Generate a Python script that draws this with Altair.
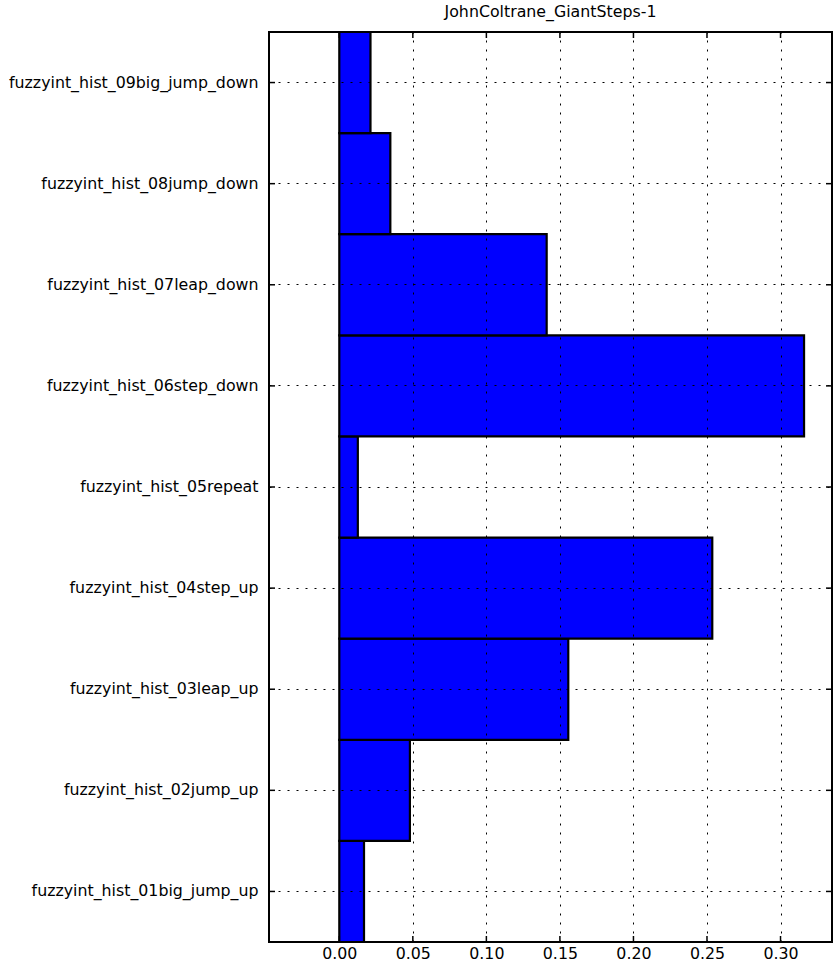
import altair as alt
import pandas as pd

# Fuzzy interval histogram for one solo transcription
title = "JohnColtrane_GiantSteps-1"
features = [
    "fuzzyint_hist_01big_jump_up",
    "fuzzyint_hist_02jump_up",
    "fuzzyint_hist_03leap_up",
    "fuzzyint_hist_04step_up",
    "fuzzyint_hist_05repeat",
    "fuzzyint_hist_06step_down",
    "fuzzyint_hist_07leap_down",
    "fuzzyint_hist_08jump_down",
    "fuzzyint_hist_09big_jump_down",
]
shares = [0.0168, 0.048, 0.1557, 0.2536, 0.0126, 0.316, 0.141, 0.0347, 0.0212]
x_ticks = [0.0, 0.05, 0.10, 0.15, 0.20, 0.25, 0.30]

W, H = 563, 910
FONT = "DejaVu Sans"
FS = 15.8
TICK = 6

bars_df = pd.DataFrame({"feature": features, "share": shares, "zero": [0.0] * len(features)})
xt_df = pd.DataFrame({"t": x_ticks})
frame_df = pd.DataFrame({"k": [0]})

order = list(reversed(features))
xscale = alt.Scale(domain=[-0.0478, 0.335], nice=False, zero=False)
yscale = alt.Scale(domain=order, paddingInner=0, paddingOuter=0)

x_axis = alt.Axis(
    values=x_ticks, format=".2f", title=None, ticks=False, domain=False,
    grid=True, gridColor="black", gridDash=[2, 7], gridWidth=1, gridOpacity=1,
    labelFont=FONT, labelFontSize=FS, labelColor="black", labelPadding=4, zindex=1,
)
y_axis = alt.Axis(
    title=None, ticks=False, domain=False,
    grid=True, gridColor="black", gridDash=[2, 7], gridWidth=1, gridOpacity=1,
    labelFont=FONT, labelFontSize=FS, labelColor="black", labelPadding=11,
    labelLimit=400, zindex=1,
)

bars = alt.Chart(bars_df).mark_bar(
    color="#0000ff", stroke="black", strokeWidth=2.2, opacity=1
).encode(
    x=alt.X("zero:Q", scale=xscale, axis=x_axis),
    x2="share:Q",
    y=alt.Y("feature:N", scale=yscale, sort=order, axis=y_axis),
)

# inward tick marks on all four sides
left_ticks = alt.Chart(bars_df).mark_rule(color="black", strokeWidth=1.5).encode(
    y=alt.Y("feature:N", scale=yscale, sort=order), x=alt.value(0), x2=alt.value(TICK)
)
right_ticks = alt.Chart(bars_df).mark_rule(color="black", strokeWidth=1.5).encode(
    y=alt.Y("feature:N", scale=yscale, sort=order), x=alt.value(W - TICK), x2=alt.value(W)
)
bottom_ticks = alt.Chart(xt_df).mark_rule(color="black", strokeWidth=1.5).encode(
    x=alt.X("t:Q", scale=xscale), y=alt.value(H - TICK), y2=alt.value(H)
)
top_ticks = alt.Chart(xt_df).mark_rule(color="black", strokeWidth=1.5).encode(
    x=alt.X("t:Q", scale=xscale), y=alt.value(0), y2=alt.value(TICK)
)

# plot frame
frame = alt.Chart(frame_df).mark_rect(
    fill=None, fillOpacity=0, stroke="black", strokeWidth=2
).encode(
    x=alt.value(0), x2=alt.value(W), y=alt.value(0), y2=alt.value(H)
)

chart = (
    alt.layer(bars, left_ticks, right_ticks, bottom_ticks, top_ticks, frame)
    .properties(
        width=W, height=H,
        title=alt.TitleParams(
            title, font=FONT, fontSize=FS, fontWeight="normal", color="black",
            anchor="middle", offset=10,
        ),
        autosize=alt.AutoSizeParams(type="none"),
        padding={"left": 269, "top": 32, "right": 5, "bottom": 26},
    )
    .configure_view(stroke=None)
    .configure(background="white")
)

chart.save("out.html", embed_options={"renderer": "svg", "actions": False})
